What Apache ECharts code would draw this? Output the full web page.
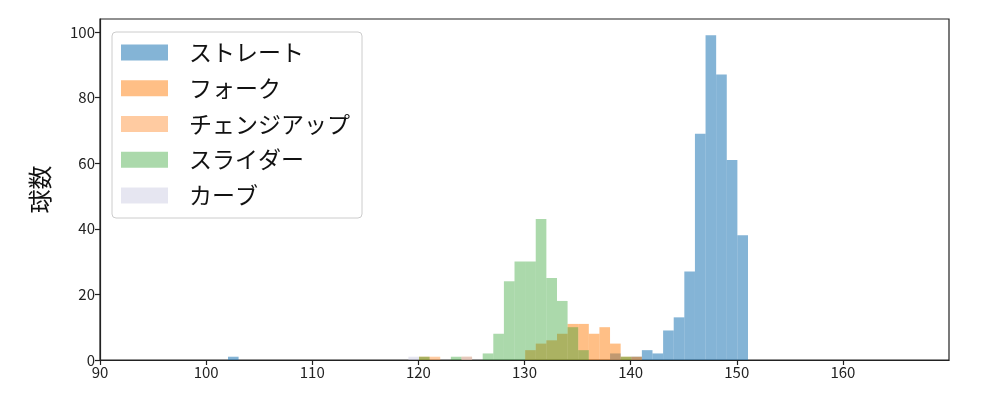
<!DOCTYPE html>
<html>
<head>
<meta charset="utf-8">
<script src="https://cdn.jsdelivr.net/npm/echarts@6/dist/echarts.min.js"></script>
<style>
html,body{margin:0;padding:0;background:#fff;}
#chart{width:1000px;height:400px;}
</style>
</head>
<body>
<div id="chart"></div>
<script>
// Histogram data: bin left edge (km/h) and count; bin width 1
var binWidth = 1;
var binOffset = 0.06;
var seriesNames = ['ストレート', 'フォーク', 'チェンジアップ', 'スライダー', 'カーブ'];
var straightBins = [102, 138, 140, 141, 142, 143, 144, 145, 146, 147, 148, 149, 150];
var straightCounts = [1, 2, 1, 3, 2, 9, 13, 27, 69, 99, 87, 61, 38];
var forkBins = [120, 130, 131, 132, 133, 134, 135, 136, 137, 138, 139, 140];
var forkCounts = [1, 3, 5, 6, 8, 11, 11, 8, 10, 5, 1, 1];
var changeupBins = [121, 124];
var changeupCounts = [1, 1];
var sliderBins = [120, 123, 126, 127, 128, 129, 130, 131, 132, 133, 134, 135, 139];
var sliderCounts = [1, 1, 2, 8, 24, 30, 30, 43, 25, 18, 10, 3, 1];
var curveBins = [119, 124];
var curveCounts = [1, 1];
var xTicks = [90, 100, 110, 120, 130, 140, 150, 160];
var yTicks = [0, 20, 40, 60, 80, 100];

var colors = [
  'rgba(31,119,180,0.55)',
  'rgba(255,127,14,0.5)',
  'rgba(255,151,67,0.5)',
  'rgba(44,160,44,0.4)',
  'rgba(200,200,225,0.45)'
];

function pairs(bins, counts) {
  return bins.map(function (b, i) { return [b + binOffset, counts[i]]; });
}
var allData = [
  pairs(straightBins, straightCounts),
  pairs(forkBins, forkCounts),
  pairs(changeupBins, changeupCounts),
  pairs(sliderBins, sliderCounts),
  pairs(curveBins, curveCounts)
];

function renderItem(params, api) {
  var x0 = api.value(0);
  var y = api.value(1);
  var p1 = api.coord([x0, y]);
  var p2 = api.coord([x0 + binWidth, 0]);
  return {
    type: 'rect',
    shape: { x: p1[0], y: p1[1], width: p2[0] - p1[0], height: p2[1] - p1[1] },
    style: api.style()
  };
}

var font = '"Noto Sans CJK JP", "DejaVu Sans", sans-serif';
var chart = echarts.init(document.getElementById('chart'));
chart.setOption({
  animation: false,
  textStyle: { fontFamily: font },
  grid: { left: 100, right: 51, top: 19, bottom: 40, show: true, borderColor: '#222', borderWidth: 1.2, backgroundColor: 'transparent' },
  legend: {
    orient: 'vertical',
    left: 112, top: 32,
    padding: [9, 12, 11, 9],
    itemWidth: 47, itemHeight: 16, itemGap: 12.75,
    icon: 'rect',
    backgroundColor: 'rgba(255,255,255,0.85)',
    borderColor: '#ccc', borderWidth: 1, borderRadius: 4,
    textStyle: { fontSize: 23, color: '#111', fontFamily: font, padding: [0, 0, 0, 16], lineHeight: 22 },
    data: seriesNames
  },
  xAxis: {
    type: 'value', min: 90, max: 170, interval: 10,
    axisLine: { show: true, lineStyle: { color: '#222', width: 1.2 } },
    axisTick: { show: true, length: 5, lineStyle: { color: '#222', width: 1.2 }, customValues: xTicks },
    axisLabel: { fontSize: 15, color: '#222', margin: 5, fontFamily: font, customValues: xTicks },
    splitLine: { show: false }
  },
  yAxis: {
    type: 'value', min: 0, max: 103.95, interval: 20,
    name: '球数', nameLocation: 'middle', nameGap: 48, nameRotate: 90,
    nameTextStyle: { fontSize: 24, color: '#111', fontFamily: font },
    axisLine: { show: true, lineStyle: { color: '#222', width: 1.2 } },
    axisTick: { show: true, length: 5, lineStyle: { color: '#222', width: 1.2 }, customValues: yTicks },
    axisLabel: { fontSize: 15, color: '#222', margin: 5, fontFamily: font, customValues: yTicks },
    splitLine: { show: false }
  },
  series: seriesNames.map(function (name, i) {
    return {
      name: name,
      type: 'custom',
      renderItem: renderItem,
      itemStyle: { color: colors[i] },
      encode: { x: 0, y: 1 },
      data: allData[i]
    };
  })
});
</script>
</body>
</html>
